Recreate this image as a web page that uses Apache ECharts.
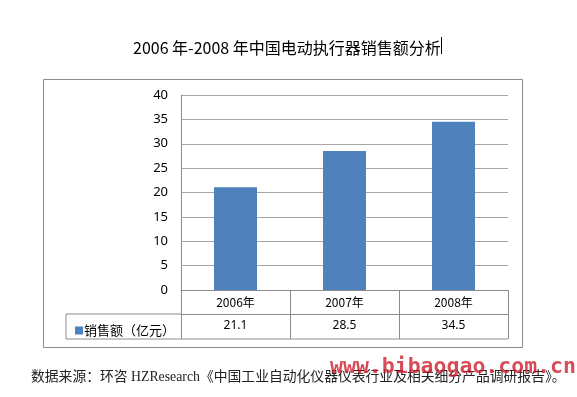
<!DOCTYPE html>
<html>
<head>
<meta charset="utf-8" />
<title>2006年-2008年中国电动执行器销售额分析</title>
<script src="https://cdn.jsdelivr.net/npm/echarts@6/dist/echarts.min.js"></script>
<style>
  html, body { margin: 0; padding: 0; background: #fff; }
  #main { width: 577px; height: 397px; }
</style>
</head>
<body>
<div id="main"></div>
<script>
// 数据
var years = ['2006年', '2007年', '2008年'];
var sales = [21.1, 28.5, 34.5];
var yTicks = [0, 5, 10, 15, 20, 25, 30, 35, 40];
var seriesName = '销售额（亿元）';
var titleText = '2006 年-2008 年中国电动执行器销售额分析';
var sourceText = '数据来源：环咨 HZResearch《中国工业自动化仪器仪表行业及相关细分产品调研报告》。';
var watermark = 'www.bibaogao.com.cn';

var lineGray = '#8c8c8c';
var gridGray = '#a6a6a6';
var cjk = '"Noto Sans CJK SC", sans-serif';

var chart = echarts.init(document.getElementById('main'));
chart.setOption({
  animation: false,
  title: {
    text: titleText,
    left: 128,
    top: 35,
    textStyle: { fontSize: 16, fontWeight: 'normal', color: '#000', fontFamily: cjk }
  },
  legend: {
    data: [seriesName],
    left: 70,
    top: 319,
    icon: 'rect',
    itemWidth: 8,
    itemHeight: 8,
    textStyle: { fontSize: 13, color: '#000', fontFamily: cjk, padding: [0, 0, 0, -4] }
  },
  grid: { left: 181, right: 69, top: 95, bottom: 107 },
  yAxis: {
    type: 'value',
    min: yTicks[0],
    max: yTicks[yTicks.length - 1],
    interval: 5,
    axisLine: { show: true, lineStyle: { color: lineGray } },
    axisTick: { show: false },
    axisLabel: { fontSize: 13, color: '#000', margin: 13, fontFamily: 'Noto Sans' },
    splitLine: { lineStyle: { color: gridGray } }
  },
  xAxis: [{
    type: 'category',
    data: years,
    position: 'bottom',
    axisLine: { lineStyle: { color: lineGray } },
    axisTick: { show: true, length: 49, lineStyle: { color: lineGray } },
    axisLabel: { fontSize: 12, color: '#000', margin: 6, fontFamily: cjk }
  }, {
    type: 'category',
    data: sales.map(function (v) { return v.toFixed(1); }),
    position: 'bottom',
    offset: 24,
    axisLine: { show: true, lineStyle: { color: lineGray } },
    axisTick: { show: false },
    axisLabel: { fontSize: 12, color: '#000', margin: 6, fontFamily: 'Noto Sans' }
  }],
  series: [{
    name: seriesName,
    type: 'bar',
    data: sales,
    barWidth: 43,
    itemStyle: { color: '#4f81bd' }
  }],
  graphic: [
    // 外框
    { type: 'rect', shape: { x: 43.5, y: 79.5, width: 479, height: 268 },
      style: { fill: null, stroke: lineGray, lineWidth: 1 }, silent: true },
    // 数据表左侧单元格与底线
    { type: 'line', shape: { x1: 66, y1: 314, x2: 181, y2: 314 }, style: { stroke: lineGray } },
    { type: 'line', shape: { x1: 66, y1: 339, x2: 508, y2: 339 }, style: { stroke: lineGray } },
    { type: 'line', shape: { x1: 66, y1: 314, x2: 66, y2: 339 }, style: { stroke: lineGray } },
    // 光标
    { type: 'line', shape: { x1: 441.5, y1: 37, x2: 441.5, y2: 54 }, style: { stroke: '#000' } },
    // 数据来源
    { type: 'text', left: 31, top: 370,
      style: { text: sourceText, fontSize: 13.8, fill: '#222',
        fontFamily: '"Liberation Serif", "Noto Sans CJK SC", serif' } },
    // 水印
    { type: 'text', left: 330, top: 356,
      style: { text: watermark, fontSize: 21.5, fontWeight: 'bold', fill: 'rgba(205,30,45,0.8)',
        fontFamily: '"DejaVu Sans Mono", monospace' } }
  ]
});

window.onresize = function () {
  chart.resize();
};
</script>
</body>
</html>
